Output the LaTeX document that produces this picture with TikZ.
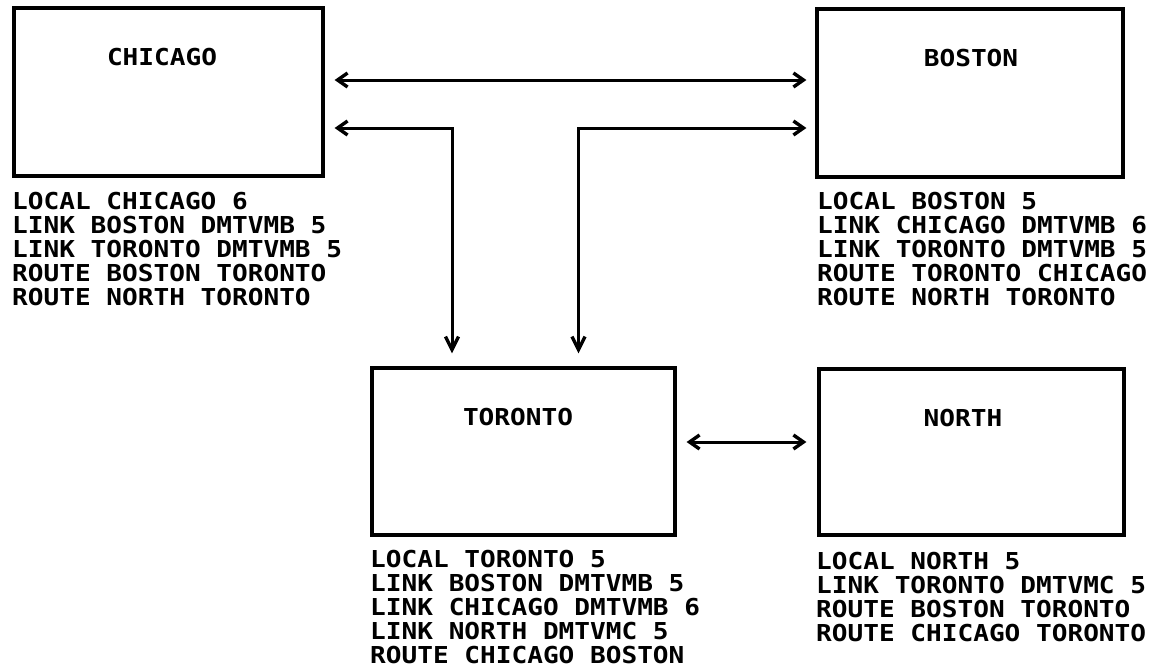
\documentclass[tikz,border=0pt]{standalone}
\usepackage{fontspec}
\newfontfamily\dfont{DejaVu Sans Mono}[FakeStretch=1.12]
\usetikzlibrary{arrows.meta,calc}
\tikzset{
  citybox/.style={draw, line width=3.2pt, rectangle, inner sep=0pt},
  citylbl/.style={inner sep=0pt, font={\dfont\bfseries\fontsize{23.3}{24}\selectfont}},
  cfgtext/.style={inner sep=0pt, anchor=north west, align=left, font={\dfont\bfseries\fontsize{23.3}{24}\selectfont}},
  hchev/.tip={Straight Barb[length=10pt,width=14pt,line width=3.4pt]},
  vchev/.tip={Straight Barb[length=13pt,width=13pt,line width=3.4pt]},
  conn/.style={line width=3pt, line join=miter}
}
\begin{document}
\begin{tikzpicture}[x=1pt,y=-1pt]
\useasboundingbox (0,0) rectangle (1154,667);
% boxes
\node[citybox, minimum width=309pt, minimum height=168pt] (chicago) at (168.5,92) {};
\node[citybox, minimum width=306pt, minimum height=168pt] (boston) at (970,93) {};
\node[citybox, minimum width=303pt, minimum height=167pt] (toronto) at (523.5,451.5) {};
\node[citybox, minimum width=305pt, minimum height=166pt] (north) at (971.5,452) {};
% box labels
\node[citylbl] (chicagolbl) at (162,57) {CHICAGO};
\node[citylbl] (bostonlbl) at (971,58) {BOSTON};
\node[citylbl] (torontolbl) at (518,417) {TORONTO};
\node[citylbl] (northlbl) at (963,418) {NORTH};
% configuration texts
\node[cfgtext] (chicagocfg) at (12,192) {LOCAL CHICAGO 6\\LINK BOSTON DMTVMB 5\\LINK TORONTO DMTVMB 5\\ROUTE BOSTON TORONTO\\ROUTE NORTH TORONTO};
\node[cfgtext] (bostoncfg) at (817,192) {LOCAL BOSTON 5\\LINK CHICAGO DMTVMB 6\\LINK TORONTO DMTVMB 5\\ROUTE TORONTO CHICAGO\\ROUTE NORTH TORONTO};
\node[cfgtext] (torontocfg) at (370,550) {LOCAL TORONTO 5\\LINK BOSTON DMTVMB 5\\LINK CHICAGO DMTVMB 6\\LINK NORTH DMTVMC 5\\ROUTE CHICAGO BOSTON};
\node[cfgtext] (northcfg) at (816,552) {LOCAL NORTH 5\\LINK TORONTO DMTVMC 5\\ROUTE BOSTON TORONTO\\ROUTE CHICAGO TORONTO};
% connectors
\draw[conn, arrows={hchev-hchev}] ([xshift=10pt,yshift=12pt]chicago.east) -- ([xshift=-9pt,yshift=13pt]boston.west);
\draw[conn, arrows={hchev-vchev}] ([xshift=10pt,yshift=-36pt]chicago.east) -| ([xshift=-71.5pt,yshift=13pt]toronto.north);
\draw[conn, arrows={vchev-hchev}] ([xshift=55pt,yshift=13pt]toronto.north) |- ([xshift=-9pt,yshift=-35pt]boston.west);
\draw[conn, arrows={hchev-hchev}] ([xshift=10pt,yshift=9.5pt]toronto.east) -- ([xshift=-11pt,yshift=10pt]north.west);
\end{tikzpicture}
\end{document}
